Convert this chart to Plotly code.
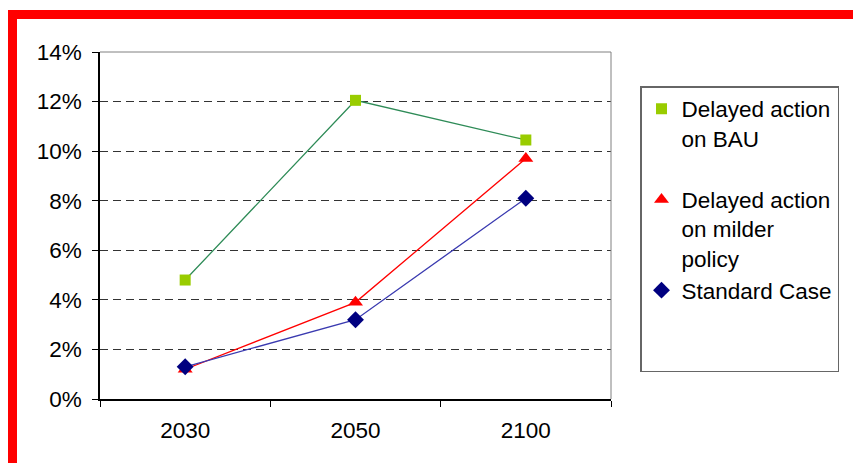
import plotly.graph_objects as go

years = ["2030", "2050", "2100"]
bau = [0.048, 0.1205, 0.1045]
milder = [0.012, 0.039, 0.097]
standard = [0.013, 0.032, 0.081]
names = ["Delayed action<br>on BAU<br> ", "Delayed action<br>on milder<br>policy", "Standard Case<br> <br> "]

# page is offset by the default 8px body margin
OFF = 8
W, H = 861 - OFF, 463 - OFF
L, R, T, B = 100 - OFF, 611 - OFF, 52 - OFF, 399 - OFF

def px(x):  # page pixel -> paper
    return (x - OFF - L) / (R - L)

def py(y):
    return (B - (y - OFF)) / (B - T)

FONT = "Arial, Liberation Sans, sans-serif"
FS = 22.5

fig = go.Figure()

series = [
    (bau, names[0], "#2E8B57", "#99CC00", "square", 11),
    (milder, names[1], "#FF0000", "#FF0000", "triangle-up", 13),
    (standard, names[2], "#3A3AB0", "#000080", "diamond", 13),
]

for vals, name, lc, mc, sym, ms in series:
    fig.add_trace(go.Scatter(x=years, y=vals, mode="lines", line=dict(color=lc, width=1.3),
                             showlegend=False, hoverinfo="skip"))
for i, (vals, name, lc, mc, sym, ms) in enumerate(series):
    fig.add_trace(go.Scatter(x=years, y=vals, mode="markers", name=name,
                             marker=dict(color=mc, symbol=sym, size=ms, line=dict(width=0)),
                             legendgroup=f"g{i}"))

shapes = [
    dict(type="rect", xref="paper", yref="paper", x0=px(8), x1=px(880), y0=py(19), y1=py(10),
         fillcolor="#FF0000", line=dict(width=0), layer="above"),
    dict(type="rect", xref="paper", yref="paper", x0=px(8), x1=px(17), y0=py(480), y1=py(10),
         fillcolor="#FF0000", line=dict(width=0), layer="above"),
    dict(type="line", xref="paper", yref="paper", x0=0, x1=1, y0=1, y1=1,
         line=dict(color="#808080", width=1)),
    dict(type="line", xref="paper", yref="paper", x0=1, x1=1, y0=0, y1=1,
         line=dict(color="#808080", width=1)),
]

fig.update_layout(
    width=W, height=H,
    margin=dict(l=L, r=W - R, t=T, b=H - B, pad=0),
    paper_bgcolor="white", plot_bgcolor="white",
    font=dict(family=FONT, size=FS, color="black"),
    shapes=shapes,
    showlegend=True,
    legend=dict(x=px(640), y=py(86), xanchor="left", yanchor="top",
                bordercolor="#666666", borderwidth=1.5, bgcolor="white",
                font=dict(family=FONT, size=FS, color="black"),
                valign="top", tracegroupgap=2, traceorder="normal"),
)

fig.update_xaxes(type="category", tickson="boundaries", ticks="outside", ticklen=6,
                 tickcolor="black", showline=True, linecolor="black", linewidth=1.5,
                 showgrid=False, ticklabelstandoff=10, range=[-0.5, 2.5],
                 tickfont=dict(family=FONT, size=FS, color="black"))
fig.update_yaxes(range=[0, 0.14], dtick=0.02, tickformat=".0%", ticks="outside", ticklen=6,
                 tickcolor="black", showline=True, linecolor="black", linewidth=1.5,
                 showgrid=True, gridcolor="#333333", griddash="8px,5px", gridwidth=1,
                 zeroline=False, ticklabelstandoff=6,
                 tickfont=dict(family=FONT, size=FS, color="black"))

fig.write_html("out.html")
